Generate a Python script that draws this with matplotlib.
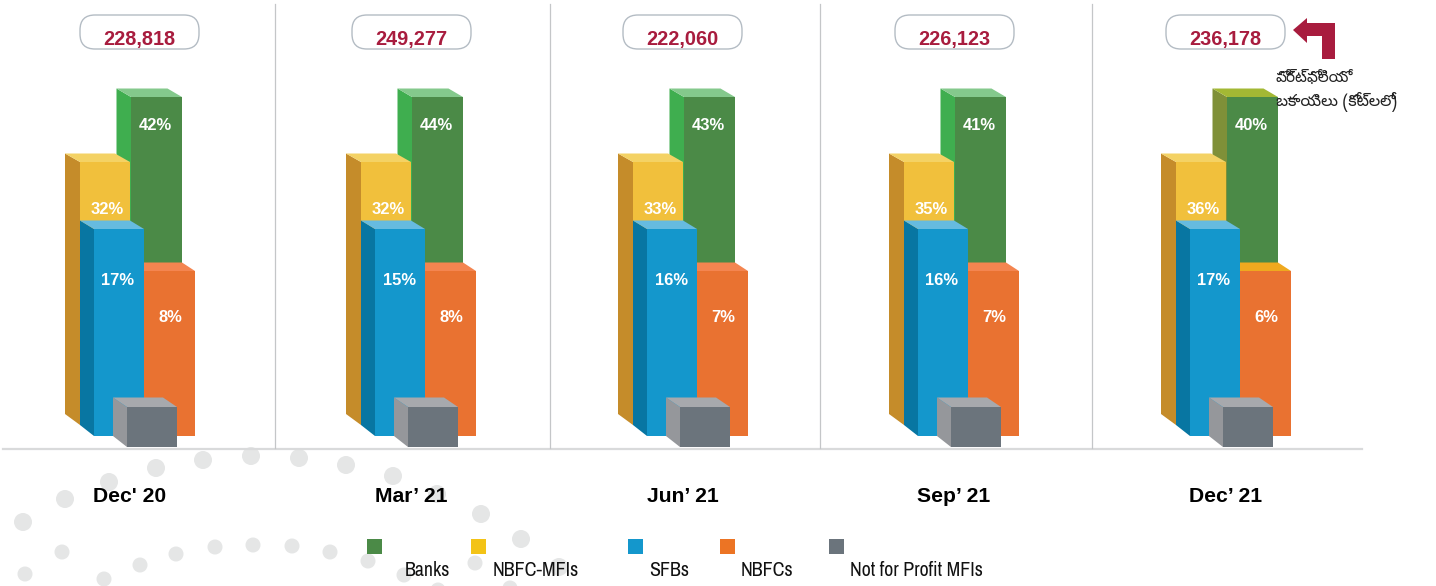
import matplotlib
matplotlib.use('Agg')
import matplotlib.pyplot as plt
from matplotlib.patches import Polygon, Rectangle, FancyBboxPatch, Circle

# data
periods = ["Dec' 20", "Mar’ 21", "Jun’ 21", "Sep’ 21", "Dec’ 21"]
totals = ["228,818", "249,277", "222,060", "226,123", "236,178"]
banks = [42, 44, 43, 41, 40]
nbfc_mfis = [32, 32, 33, 35, 36]
sfbs = [17, 15, 16, 16, 17]
nbfcs = [8, 8, 7, 7, 6]
legend_names = ['Banks', 'NBFC-MFIs', 'SFBs', 'NBFCs', 'Not for Profit MFIs']
note_lines = ['పోర్ట్ఫోలియో', 'బకాయిలు (కోట్లలో)']

# the bars in the original are drawn with fixed heights, they do not follow the %
banks_h = 339
mfi_h = 263
sfb_h = 207
nbfc_h = 165
nfp_h = 40

# layout, in pixels of the 1436x586 picture
group_x = [131, 412, 684, 955, 1227]
pill_x = [139.5, 411.5, 682.5, 954.5, 1225.5]
divider_x = [275, 550, 820, 1092]
legend_sq = [367, 471, 628, 720, 829]
legend_tx = [405, 493, 649, 741, 850]

# background dots
dots_big = [(23, 522), (65, 499), (109, 482), (156, 468), (203, 460), (251, 456), (299, 458),
            (346, 465), (393, 476), (437, 494), (481, 514), (521, 539), (559, 567)]
dots_small = [(25, 574), (62, 552), (104, 579), (140, 565), (176, 554), (215, 547), (253, 545),
              (292, 546), (330, 552), (368, 561), (404, 575), (438, 590), (475, 563), (510, 588)]

GREEN = ('#4b8a47', '#3fae4f', '#84c98c')
YELLOW = ('#f1c03c', '#c58c2a', '#f4d264')
BLUE = ('#1497cc', '#0876a2', '#66bbe0')
ORANGE = ('#e97231', None, '#f48550')
GREY = ('#6b747c', '#95979b', '#a7a9ad')
RED = '#a81c3e'
legend_cols = ['#4b8a47', '#f3c316', '#1497cc', '#ec7424', '#6b747c']

plt.rcParams['font.family'] = ['Liberation Sans', 'DejaVu Sans']

fig = plt.figure(figsize=(14.36, 5.86), dpi=100)
ax = fig.add_axes([0, 0, 1, 1])
ax.set_xlim(0, 1436)
ax.set_ylim(586, 0)
ax.axis('off')


def box(x, w, base, h, cols, dx=14.5, dy=8.5, z=3):
    front, side, top = cols
    y = base - h
    ax.add_patch(Rectangle((x, y), w, h, fc=front, ec='none', zorder=z))
    if side:
        ax.add_patch(Polygon([(x - dx, y - dy), (x, y), (x, base), (x - dx, base - 11)],
                             fc=side, ec='none', zorder=z))
        ax.add_patch(Polygon([(x - dx, y - dy), (x + w - dx, y - dy), (x + w, y), (x, y)],
                             fc=top, ec='none', zorder=z))
    else:
        ax.add_patch(Polygon([(x, y - dy), (x + w - dx, y - dy), (x + w, y), (x, y)],
                             fc=top, ec='none', zorder=z))


for x, y in dots_big:
    ax.add_patch(Circle((x, y), 9, fc='#e5e6e6', ec='none', zorder=1))
for x, y in dots_small:
    ax.add_patch(Circle((x, y), 7.5, fc='#e5e6e6', ec='none', zorder=1))

ax.plot([3, 1362], [448.5, 448.5], color='#d9dadb', lw=1.6, zorder=2)
for x in divider_x:
    ax.plot([x, x], [4, 448], color='#c4c6c8', lw=0.9, zorder=2)

for i, gx in enumerate(group_x):
    last = i == len(group_x) - 1
    box(gx, 51, 436, banks_h, ('#4b8a47', '#7f9038', '#a3b834') if last else GREEN, z=3)
    box(gx - 51, 50, 425, mfi_h, YELLOW, dx=15, z=4)
    box(gx + 13, 51, 436, nbfc_h, ('#e97231', None, '#efa91f') if last else ORANGE, dx=13, z=5)
    box(gx - 37, 50, 436, sfb_h, BLUE, dx=14, z=6)
    box(gx - 4, 50, 447, nfp_h, GREY, dx=14, dy=9.5, z=7)

    pct = dict(color='white', fontsize=11.9, fontweight='bold', ha='center', va='baseline', zorder=8)
    ax.text(gx + 24, 130, f'{banks[i]}%', **pct)
    ax.text(gx - 24, 214, f'{nbfc_mfis[i]}%', **pct)
    ax.text(gx - 13, 285, f'{sfbs[i]}%', **pct)
    ax.text(gx + 39, 322, f'{nbfcs[i]}%', **pct)

    ax.add_patch(FancyBboxPatch((pill_x[i] - 59.5, 15), 119, 34,
                                boxstyle='round,pad=0,rounding_size=15',
                                fc='white', ec='#b4bcc4', lw=1, zorder=2))
    ax.text(pill_x[i], 45, totals[i], color=RED, fontsize=14.3, fontweight='bold',
            ha='center', va='baseline', zorder=8)
    ax.text(gx - 1, 502, periods[i], color='black', fontsize=15.2, fontweight='bold',
            ha='center', va='baseline', zorder=8)

# arrow pointing at the total
ax.add_patch(Polygon([(1293, 30), (1307, 18), (1307, 23), (1335, 23), (1335, 59),
                      (1322, 59), (1322, 36), (1307, 36), (1307, 43)],
                     fc=RED, ec='none', zorder=8))

note_font = ['Noto Sans Telugu', 'Liberation Sans']
ax.text(1276, 82, note_lines[0], fontsize=11, color='#222222', va='baseline',
        family=note_font, zorder=8)
ax.text(1276, 106, note_lines[1], fontsize=11.5, color='#222222', va='baseline',
        family=note_font, zorder=8)

for i, name in enumerate(legend_names):
    ax.add_patch(Rectangle((legend_sq[i], 539), 15, 15, fc=legend_cols[i], ec='none', zorder=8))
    ax.text(legend_tx[i], 576, name, fontsize=14.3, color='#111111', ha='left', va='baseline',
            family=['Archivo Narrow', 'Liberation Sans'], zorder=8)

fig.savefig('out.png', dpi=100)
